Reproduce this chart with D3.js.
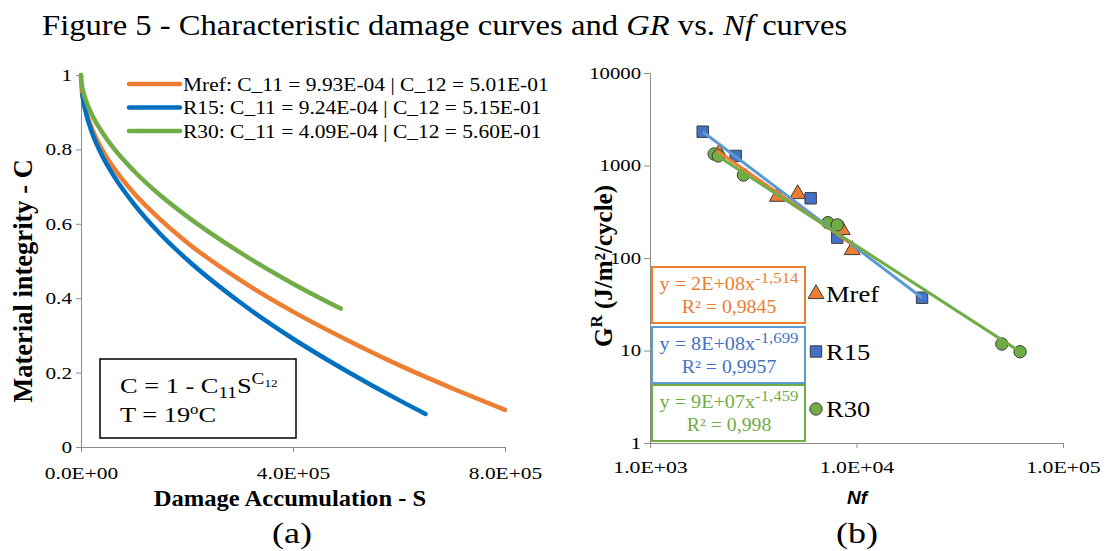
<!DOCTYPE html>
<html>
<head>
<meta charset="utf-8">
<script src="https://cdn.jsdelivr.net/npm/d3@7"></script>
<style>
  body { margin: 0; background: #fff; }
  svg { display: block; font-family: "Liberation Serif", "Times New Roman", serif; }
</style>
</head>
<body>
<svg id="fig" width="1108" height="551"></svg>
<script>
// Damage curves (a): S values and C values
const mrefS = [0, 200, 1000, 5000, 1e4, 2e4, 4e4, 6e4, 1e5, 1.5e5, 2e5, 3e5, 4e5, 5e5, 6e5, 7e5, 8e5]
const mrefC = [1, 0.986, 0.968, 0.929, 0.900, 0.858, 0.799, 0.754, 0.682, 0.611, 0.550, 0.449, 0.364, 0.289, 0.220, 0.158, 0.100]
const r15S = [2500, 5000, 1e4, 2e4, 4e4, 6e4, 1e5, 1.5e5, 2e5, 3e5, 4e5, 5e5, 6e5, 6.5e5]
const r15C = [0.948, 0.926, 0.894, 0.848, 0.783, 0.733, 0.653, 0.572, 0.504, 0.389, 0.291, 0.205, 0.126, 0.089]
const r30S = [0, 200, 1000, 5000, 1e4, 2e4, 4e4, 6e4, 1e5, 1.5e5, 2e5, 3e5, 4e5, 4.9e5]
const r30C = [1, 0.992, 0.980, 0.952, 0.929, 0.895, 0.846, 0.806, 0.742, 0.676, 0.620, 0.523, 0.439, 0.372]
const damageLabels = [
  'Mref: C_11 = 9.93E-04 | C_12 = 5.01E-01',
  'R15: C_11 = 9.24E-04 | C_12 = 5.15E-01',
  'R30: C_11 = 4.09E-04 | C_12 = 5.60E-01'
]
const cTicks = [0, 0.2, 0.4, 0.6, 0.8, 1]
const sTicks = [0, 4e5, 8e5]
const sTickLabels = ['0.0E+00', '4.0E+05', '8.0E+05']

// GR vs Nf (b)
const mrefNf = [2160, 4140, 5190, 8530, 9530]
const mrefGR = [1355, 460, 492, 201, 122]
const r15Nf = [1800, 2600, 6000, 8070, 20770]
const r15GR = [2320, 1268, 442, 166, 37.2]
const r30Nf = [2045, 2140, 2835, 7265, 8070, 50570, 61960]
const r30GR = [1331, 1268, 789, 241, 228, 11.75, 9.7]
// trendline end points
const mrefTrendNf = [2100, 9530]
const mrefTrendGR = [1450, 140]
const r15TrendNf = [1800, 20770]
const r15TrendGR = [2320, 37.2]
const r30TrendNf = [2045, 61960]
const r30TrendGR = [1340, 9.7]
const fitEq = ['y = 2E+08x', 'y = 8E+08x', 'y = 9E+07x']
const fitExp = ['-1,514', '-1,699', '-1,459']
const fitR2 = ['R² = 0,9845', 'R² = 0,9957', 'R² = 0,998']
const groups = ['Mref', 'R15', 'R30']
const grTicks = [1, 10, 100, 1000, 10000]
const nfTicks = [1e3, 1e4, 1e5]
const nfTickLabels = ['1.0E+03', '1.0E+04', '1.0E+05']

const orange = '#ED7D31'
const blue = '#0070C0'
const green = '#70AD47'
const axisGray = '#8c8c8c'

const svg = d3.select('#fig')

// text that is a bit wider than the font, like the picture
function wideText (parent, x, y, sx) {
  return parent.append('g')
      .attr('transform', 'translate(' + x + ',' + y + ') scale(' + sx + ',1)')
    .append('text')
}

function styleTicks (g, sx, leftAxis) {
  g.selectAll('text')
    .style('font-size', '17px')
    .style('font-family', 'Liberation Serif')
    .attr('fill', '#000')
    .attr('transform', 'scale(' + sx + ',1)')
  if (leftAxis) g.selectAll('text').attr('x', -9 / sx)
}

// Title
let title = wideText(svg, 42, 35, 1.125)
    .style('font-size', '29px')
title.append('tspan').text('Figure 5 - Characteristic damage curves and ')
title.append('tspan').style('font-style', 'italic').text('GR')
title.append('tspan').text(' vs. ')
title.append('tspan').style('font-style', 'italic').text('Nf')
title.append('tspan').text(' curves')

// ---------- (a) ----------
let xS = d3.scaleLinear().domain([0, 8e5]).range([81, 505])
let yC = d3.scaleLinear().domain([0, 1]).range([447, 75])

let ga = svg.append('g')

ga.append('g')
  .attr('transform', 'translate(' + xS(0) + ',0)')
  .call(d3.axisLeft(yC).tickValues(cTicks).tickSize(5).tickFormat(d => d === 0 || d === 1 ? d : d.toFixed(1)))
  .call(g => styleTicks(g, 1.25, true))

ga.append('g')
  .attr('transform', 'translate(0,' + yC(0) + ')')
  .call(d3.axisBottom(xS).tickValues(sTicks).tickSize(5).tickFormat((d, i) => sTickLabels[i]))
  .call(g => styleTicks(g, 1.26, false))
  .call(g => g.selectAll('text').attr('dy', '1.4em'))

ga.selectAll('.domain, .tick line').attr('stroke', axisGray)

let curve = d3.line()
    .x(d => xS(d[0]))
    .y(d => yC(d[1]))
    .curve(d3.curveMonotoneX)

let damageSeries = [
  { s: mrefS, c: mrefC, color: orange },
  { s: r15S, c: r15C, color: blue },
  { s: r30S, c: r30C, color: green }
]

damageSeries.forEach(ser => {
  ga.append('path')
    .datum(ser.s.map((v, i) => [v, ser.c[i]]))
    .attr('d', curve)
    .attr('fill', 'none')
    .attr('stroke', ser.color)
    .attr('stroke-width', 4.5)
    .attr('stroke-linecap', 'round')
})

// Legend
damageSeries.forEach((ser, i) => {
  let y = 84 + i * 23.5
  ga.append('line')
    .attr('x1', 129).attr('x2', 180)
    .attr('y1', y).attr('y2', y)
    .attr('stroke', ser.color)
    .attr('stroke-width', 4.5)
    .attr('stroke-linecap', 'round')
  wideText(ga, 183, y + 6.5, 1.13)
    .style('font-size', '19px')
    .text(damageLabels[i])
})

// Equation box
ga.append('rect')
  .attr('x', 100).attr('y', 359)
  .attr('width', 196).attr('height', 79)
  .attr('fill', '#fff')
  .attr('stroke', '#000')
  .attr('stroke-width', 1.5)

let eq = wideText(ga, 120, 393, 1.2)
    .style('font-size', '22px')
eq.append('tspan').text('C = 1 - C')
eq.append('tspan').attr('dy', 5).style('font-size', '16px').text('11')
eq.append('tspan').attr('dy', -5).text('S')
eq.append('tspan').attr('dy', -9).style('font-size', '16px').text('C')
eq.append('tspan').attr('dy', 3).style('font-size', '11px').text('12')

let eqT = wideText(ga, 120, 422, 1.2)
    .style('font-size', '22px')
eqT.append('tspan').text('T = 19')
eqT.append('tspan').attr('dy', -8).style('font-size', '14px').text('o')
eqT.append('tspan').attr('dy', 8).text('C')

// Axis titles
wideText(ga, 290, 506, 1.07)
  .attr('text-anchor', 'middle')
  .style('font-size', '23px')
  .style('font-weight', 'bold')
  .text('Damage Accumulation  - S')

ga.append('text')
  .attr('transform', 'translate(32,281) rotate(-90)')
  .attr('text-anchor', 'middle')
  .style('font-size', '26.5px')
  .style('font-weight', 'bold')
  .text('Material integrity - C')

wideText(ga, 292, 543, 1.2)
  .attr('text-anchor', 'middle')
  .style('font-size', '30px')
  .text('(a)')

// ---------- (b) ----------
let xN = d3.scaleLog().domain([1e3, 1e5]).range([650, 1063])
let yG = d3.scaleLog().domain([1, 1e4]).range([443, 73])

let gb = svg.append('g')

gb.append('g')
  .attr('transform', 'translate(' + xN(1e3) + ',0)')
  .call(d3.axisLeft(yG).tickValues(grTicks).tickSize(6).tickFormat(d => String(d)))
  .call(g => styleTicks(g, 1.22, true))

gb.append('g')
  .attr('transform', 'translate(0,' + yG(1) + ')')
  .call(d3.axisBottom(xN).tickValues(nfTicks).tickSize(5).tickFormat((d, i) => nfTickLabels[i]))
  .call(g => styleTicks(g, 1.28, false))
  .call(g => g.selectAll('text').attr('dy', '1.3em'))

gb.selectAll('.domain, .tick line').attr('stroke', axisGray)

let trend = d3.line()
    .x(d => xN(d[0]))
    .y(d => yG(d[1]))

let trendSeries = [
  { nf: r15TrendNf, gr: r15TrendGR, color: '#5B9BD5' },
  { nf: mrefTrendNf, gr: mrefTrendGR, color: orange },
  { nf: r30TrendNf, gr: r30TrendGR, color: green }
]

// Markers
let triangle = d3.symbol().type(d3.symbolTriangle).size(110)
let square = d3.symbol().type(d3.symbolSquare).size(130)
let circle = d3.symbol().type(d3.symbolCircle).size(120)

function drawPoints (nf, gr, sym, fill) {
  gb.selectAll(null)
    .data(nf.map((v, i) => [v, gr[i]]))
    .enter()
    .append('path')
    .attr('d', sym)
    .attr('transform', d => 'translate(' + xN(d[0]) + ',' + yG(d[1]) + ')')
    .attr('fill', fill)
    .attr('stroke', '#3a3a3a')
    .attr('stroke-width', 1)
}

drawPoints(r15Nf, r15GR, square, '#4472C4')
drawPoints(mrefNf, mrefGR, triangle, orange)
drawPoints(r30Nf, r30GR, circle, green)

trendSeries.forEach(t => {
  gb.append('path')
    .datum(t.nf.map((v, i) => [v, t.gr[i]]))
    .attr('d', trend)
    .attr('fill', 'none')
    .attr('stroke', t.color)
    .attr('stroke-width', 3)
})

// Fit boxes
let boxColors = [orange, '#5B9BD5', green]
let textColors = [orange, '#4472C4', green]
let boxTop = [267, 327, 385]
boxColors.forEach((c, i) => {
  gb.append('rect')
    .attr('x', 652).attr('y', boxTop[i])
    .attr('width', 153).attr('height', 56)
    .attr('fill', '#fff')
    .attr('stroke', c)
    .attr('stroke-width', 2)
  let t1 = wideText(gb, 729, boxTop[i] + 23, 1.12)
      .attr('text-anchor', 'middle')
      .attr('fill', textColors[i])
      .style('font-size', '18px')
  t1.append('tspan').text(fitEq[i])
  t1.append('tspan').attr('dy', -7).style('font-size', '15px').text(fitExp[i])
  wideText(gb, 729, boxTop[i] + 46, 1.1)
    .attr('text-anchor', 'middle')
    .attr('fill', textColors[i])
    .style('font-size', '18px')
    .text(fitR2[i])
})

// Series legend
let legSyms = [
  { sym: triangle, fill: orange },
  { sym: square, fill: '#4472C4' },
  { sym: circle, fill: green }
]
legSyms.forEach((l, i) => {
  let y = 294 + i * 57.5
  gb.append('path')
    .attr('d', l.sym)
    .attr('transform', 'translate(816,' + y + ')')
    .attr('fill', l.fill)
    .attr('stroke', '#3a3a3a')
    .attr('stroke-width', 1)
  wideText(gb, 826, y + 8, 1.18)
    .style('font-size', '22.5px')
    .text(groups[i])
})

// Axis titles
gb.append('text')
  .attr('x', 857).attr('y', 504)
  .attr('text-anchor', 'middle')
  .style('font-family', 'Liberation Sans, Arial, sans-serif')
  .style('font-size', '19px')
  .style('font-weight', 'bold')
  .style('font-style', 'italic')
  .text('Nf')

let gt = gb.append('text')
    .attr('transform', 'translate(612,266) rotate(-90)')
    .attr('text-anchor', 'middle')
    .style('font-size', '25px')
    .style('font-weight', 'bold')
gt.append('tspan').text('G')
gt.append('tspan').attr('dy', -10).style('font-size', '17px').text('R')
gt.append('tspan').attr('dy', 10).text(' (J/m²/cycle)')

wideText(gb, 857, 543, 1.2)
  .attr('text-anchor', 'middle')
  .style('font-size', '30px')
  .text('(b)')
</script>
</body>
</html>
